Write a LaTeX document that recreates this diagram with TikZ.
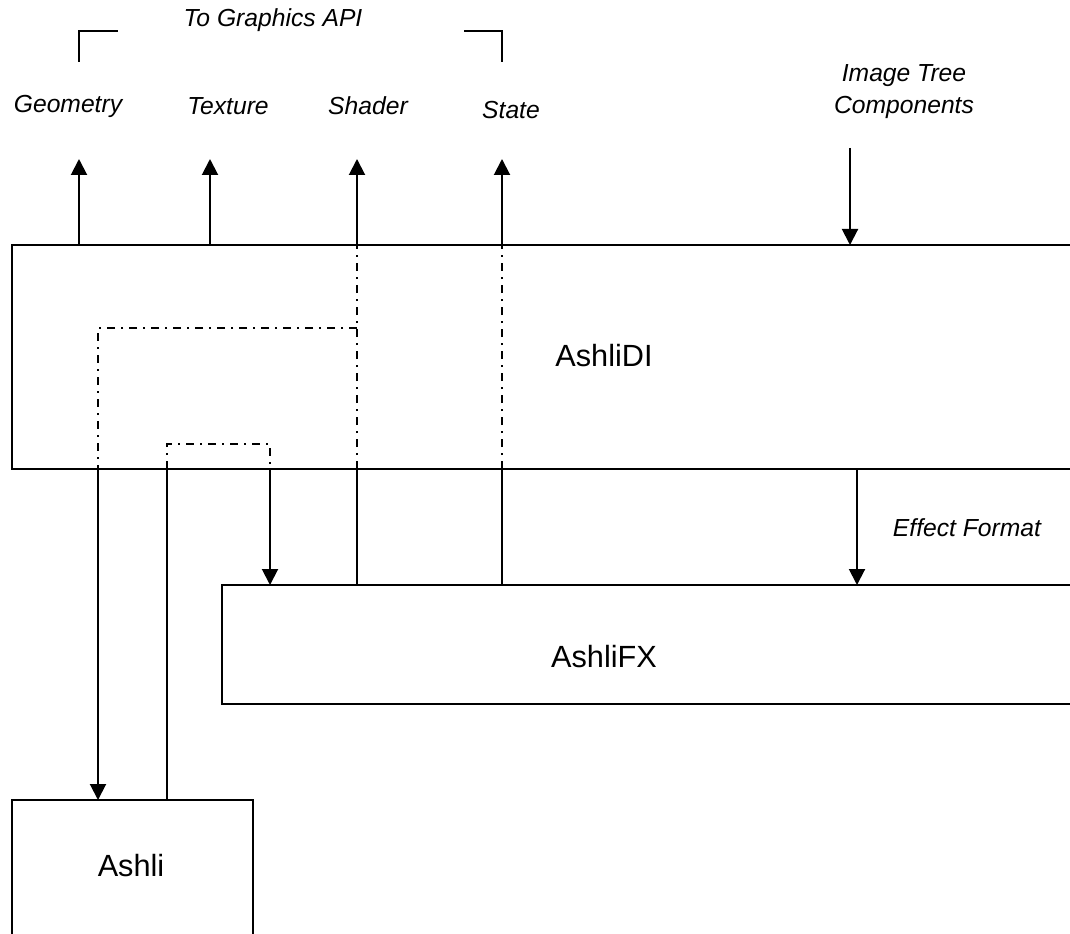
\documentclass[tikz,border=0pt]{standalone}
\usepackage{fontspec}
\setmainfont{Liberation Sans}
\usetikzlibrary{arrows.meta,calc}
\tikzset{
 box/.style={draw, line width=1.5pt, inner sep=0pt, outer sep=0pt, anchor=north west},
 conn/.style={line width=1.5pt},
 arr/.style={line width=1.5pt, -{Triangle[width=12pt,length=12pt]}},
 dd/.style={line width=1.3pt, dash pattern=on 6pt off 4.5pt on 1.5pt off 4.5pt},
 lab/.style={font=\fontsize{18.5}{24}\selectfont\itshape, inner sep=0pt},
 big/.style={font=\fontsize{23}{27}\selectfont, inner sep=0pt}
}
\begin{document}
\begin{tikzpicture}[x=0.75pt,y=-0.75pt]
\useasboundingbox (0,0) rectangle (1070,934);
\clip (0,0) rectangle (1070,934);
% boxes (cut off by the picture edge, as in the reference)
\node[box, minimum width=816pt, minimum height=168pt] (DI) at (12,245) {};
\node[box, minimum width=658.5pt, minimum height=89.25pt] (FX) at (222,585) {};
\node[box, minimum width=180.75pt, minimum height=120pt] (AS) at (12,800) {};
% texts
\node[big] (tDI) at (604,356) {AshliDI};
\node[big] (tFX) at (604,657) {AshliFX};
\node[big] (tAS) at (131,866) {Ashli};
\node[lab] (api) at (273,20) {To Graphics API};
\node[lab] (geo) at (68,106) {Geometry};
\node[lab] (tex) at (228,106) {Texture};
\node[lab] (sha) at (368,106) {Shader};
\node[lab] (sta) at (511,110) {State};
\node[lab, align=center] (itc) at (904,92) {Image Tree\\Components};
\node[lab] (eff) at (967,528) {Effect Format};
% bracket
\coordinate (bl1) at (79,62); \coordinate (bl2) at (79,31); \coordinate (bl3) at (118,31);
\coordinate (br1) at (464,31); \coordinate (br2) at (502,31); \coordinate (br3) at (502,62);
\draw[conn] (bl1) -- (bl2) -- (bl3);
\draw[conn] (br1) -- (br2) -- (br3);
% outputs to graphics API
\coordinate (gT) at (79,159);
\coordinate (xT) at (210,159);
\coordinate (sT) at (357,159);
\coordinate (tT) at (502,159);
\draw[arr] (gT |- DI.north) -- (gT);
\draw[arr] (xT |- DI.north) -- (xT);
\draw[conn] (sT |- FX.north) -- (sT |- DI.south);
\draw[dd] (sT |- DI.south) -- (sT |- DI.north);
\draw[arr] (sT |- DI.north) -- (sT);
\draw[conn] (tT |- FX.north) -- (tT |- DI.south);
\draw[dd] (tT |- DI.south) -- (tT |- DI.north);
\draw[arr] (tT |- DI.north) -- (tT);
% image tree input
\coordinate (iS) at (850,148);
\draw[arr] (iS) -- (iS |- DI.north);
% effect format
\coordinate (eX) at (857,500);
\draw[arr] (eX |- DI.south) -- (eX |- FX.north);
% loop to Ashli
\coordinate (c1) at (98,328);
\draw[dd] (sT |- c1) -- (c1) -- (c1 |- DI.south);
\draw[arr] (c1 |- DI.south) -- (c1 |- AS.north);
% loop from Ashli to AshliFX
\coordinate (c2) at (167,444);
\coordinate (c3) at (270,444);
\draw[conn] (c2 |- AS.north) -- (c2 |- DI.south);
\draw[dd] (c2 |- DI.south) -- (c2) -- (c3) -- (c3 |- DI.south);
\draw[arr] (c3 |- DI.south) -- (c3 |- FX.north);
\end{tikzpicture}
\end{document}
